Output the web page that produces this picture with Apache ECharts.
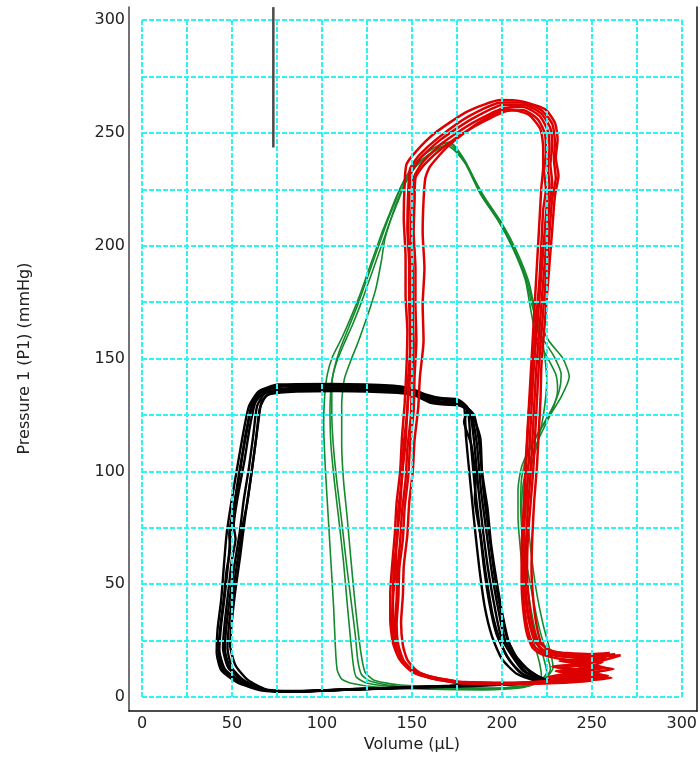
<!DOCTYPE html>
<html><head><meta charset="utf-8">
<script src="https://cdn.jsdelivr.net/npm/echarts@6/dist/echarts.min.js"></script>
<style>html,body{margin:0;padding:0;background:#fff}#c{width:700px;height:758px}</style>
</head><body><div id="c"></div>
<script>
// ---- axis ticks ----
const xTickLabels = [0, 50, 100, 150, 200, 250, 300];
const yTickLabels = [0, 50, 100, 150, 200, 250, 300];
const xGridValues = [0, 25, 50, 75, 100, 125, 150, 175, 200, 225, 250, 275, 300];
const yGridValues = [0, 25, 50, 75, 100, 125, 150, 175, 200, 225, 250, 275, 300];
const xTitle = 'Volume (µL)';
const yTitle = 'Pressure 1 (P1) (mmHg)';

// ---- vertical marker ----
const markerLine = [[73, 243.5], [73, 305.7]];

// ---- black loops ----
const bk1 = [[75,2.4],[66,3.0],[53,6.5],[44,12],[41.5,20],[42,30],[44,43],[45.5,58],[47,72],[50,88],[53,102],[56.5,118],[59.5,129],[65,135.5],[76,138.5],[105,138.8],[140,138],[150,136.5],[158,134],[166,132.5],[175,132],[179,129],[180,116],[182.5,95],[185,75],[187.5,57],[190.5,40],[194.5,27],[200,17],[208,10.5],[220,7],[226,6.5],[170,4.6],[115,3.3],[87,2.5],[75,2.4]];
const bk2 = [[76,2.6],[67,3.2],[55,6.8],[46,12.5],[43,21],[44,32],[46,45],[48,60],[49.5,74],[52,89],[55,104],[58.5,119],[61,130],[66,135.5],[78,137.6],[106,138],[142,137.2],[151,135.8],[159,133],[167,131.8],[176,131.2],[181,127.5],[182.5,115],[185,93],[187.5,76],[190,58],[193,42],[197,28],[203,18],[210,11],[221,7.2],[227,6.8],[170,4.8],[116,3.4],[88,2.6],[76,2.6]];
const bk3 = [[77,2.5],[68,3.2],[57,7],[48,13],[45,22],[46,33],[48,47],[50,61],[52,70],[51,76],[53.5,90],[57,105],[60,120],[63,130.5],[68,135],[80,136.8],[108,137.2],[143,136.4],[152,135],[160,132],[168,130.8],[177,130.5],[182,127],[184.5,114],[187,92],[189.5,74],[192.5,56],[196,40],[199.5,27],[205,19],[212,11.5],[222,7.5],[228,7],[171,4.9],[117,3.5],[89,2.6],[77,2.5]];
const bk4 = [[78,2.7],[69,3.4],[59,7.5],[52,14],[49,23],[50,34],[52,48],[54.5,62],[57,78],[59.5,92],[62,106],[64.5,121],[66.5,131],[71,134.5],[82,135.6],[110,136],[144,135.4],[153,134],[161,131],[169,130],[178,129.5],[184.5,125],[187.5,112],[190,90],[193,72],[196,54],[199.5,38],[203,26],[208,18],[215,12],[223,8],[229,7.3],[172,5],[118,3.6],[90,2.7],[78,2.7]];
const bk5 = [[76,2.5],[67,3.1],[54.5,6.6],[45,12.2],[42.5,20.5],[43.5,31],[45.5,44],[47,56],[49,66],[48.5,72],[51.5,86],[54.5,100],[57.5,116],[61,128],[66,135],[77,137.8],[104,138.3],[141,137.6],[150,136.2],[158,133.5],[166,132.2],[176,131.6],[181,128],[179,122],[183,112],[185.5,96],[185,88],[188.5,70],[191,55],[195,36],[199,25],[204,16.5],[212,10],[222,7],[227,6.6],[170,4.7],[115,3.3],[88,2.5],[76,2.5]];
const bk6 = [[77,2.6],[68,3.3],[57,7.2],[50,13],[47.5,22],[48.5,33],[50.5,46],[53,60],[56,76],[58.5,86],[61,100],[63.5,115],[65.5,128],[69.5,133.8],[81,135.2],[108,135.6],[142,134.8],[152,133.5],[160,130.5],[168,129.6],[176.5,129.2],[183,126],[188,115],[189,100],[192,84],[194,68],[197,52],[200.5,36],[204,24],[209,16],[216,11],[224,7.8],[229,7.2],[171,4.9],[117,3.5],[89,2.6],[77,2.6]];
const bk7 = [[76,2.5],[67,3.2],[56,7],[49,12.8],[46,21.5],[47,32],[49,45],[51.5,59],[54.5,74],[56.5,87],[59.5,102],[62,117],[64,129],[68.5,134.6],[79,136.2],[107,136.6],[142,136],[152,134.5],[160,131.5],[168,130.3],[177,130],[182.5,126.5],[186,113],[188.5,91],[191.5,73],[194.5,55],[198,39],[201.5,26],[206.5,18],[213,11.5],[222.5,7.6],[228.5,7],[171,4.8],[116,3.4],[88,2.6],[76,2.5]];

// ---- green loops ----
const gr1 = [[171.5,246],[165,244.5],[158,241],[151,236],[145,228],[141,221],[137,213],[133,205],[129,196],[125,187],[121,178],[116,168],[111,159],[106,151],[103,143],[101.5,133],[101,120],[102,100],[103.5,80],[105,60],[106.5,40],[107.5,22],[108.5,12],[111,8],[117,6],[130,4.5],[160,3.5],[190,3.2],[210,4],[219,6],[222,9],[221,15],[218,24],[214,40],[211,60],[209,80],[209,92],[211,102],[217,113],[226,124],[233,133],[237.5,142],[234,150],[226,158],[219,170],[215,184],[208,198],[200,210],[190,222],[181,235],[175,243],[171.5,246]];
const gr2 = [[172,245.5],[166,243.5],[159,240],[152,235],[146,227],[142,219],[138,211],[134,202],[130,193],[126,184],[122,175],[117,165],[112,156],[108,148],[105.5,140],[104.5,128],[105,112],[107,95],[109.5,78],[112,60],[114,42],[116,25],[117.5,14],[119,9],[124,6.5],[135,5],[160,4],[190,3.6],[212,4.5],[221,7],[225,11],[223,18],[219,28],[215,45],[212,65],[210.5,85],[211,97],[214,107],[221,118],[228,128],[232,136],[233,143],[229,151],[222,160],[217,173],[213,186],[206,200],[198,212],[188,224],[180,237],[175,243],[172,245.5]];
const gr3 = [[171,245],[164,243],[157,239],[150,234],[144,226],[140,218],[136,210],[132,201],[128,192],[124,183],[120,174],[115,164],[110,154],[107,146],[105.5,138],[105.5,125],[106.5,110],[108.5,94],[111,78],[113.5,60],[116,44],[118.5,28],[120,16],[122,10],[127,7],[140,5],[165,4.2],[195,3.8],[214,5],[224,8],[227,12.5],[225,19],[221,30],[217,45],[213,63],[211,82],[212,95],[216,106],[222,117],[228,127],[231,136],[230,143],[225,151],[219,160],[216,172],[213,185],[206,199],[198,211],[188,223],[180,236],[174,243],[171,245]];
const gr4 = [[170,244.5],[163,242],[156,238],[149,232],[145,226],[141,218],[138,211],[135,203],[133,193],[130,181],[127,173],[124,166],[120,157],[116,149],[112.5,141],[111,130],[111,112],[112,96],[114,80],[116,62],[118,45],[120,30],[122,18],[124,11],[129,7.5],[142,5.5],[170,4.5],[198,4],[215,5.5],[225,9],[228.5,13],[227,20],[223,32],[219,48],[216,66],[214,84],[215,98],[219,110],[222,120],[224,130],[225,140],[224,150],[222,160],[218,172],[214,185],[207,198],[199,210],[189,222],[181,235],[174,242],[170,244.5]];

// ---- red loops ----
const rd1 = [[176,6.8],[162,8.8],[150,12],[143,17],[139.5,24],[138,34],[138,46],[139,58],[140.5,72],[141.5,86],[143.5,100],[144.5,115],[146,130],[147,146],[147.5,162],[146.5,178],[146.5,195],[145.5,212],[146,228],[147,236],[152,241.5],[163,250],[181,259.5],[199.5,264.5],[210.5,264],[224,260.5],[229.5,254.5],[231,247],[230,239],[231.5,231],[229.5,222],[228,207],[226.5,192],[225,177],[223.5,162],[222,147],[221.5,132],[220.5,117],[219.5,102],[218,87],[217,72],[216.5,57],[217.5,43],[219.5,31],[222,24],[228,20],[240,18.5],[255,18],[266,18.5],[252,15.5],[238,14.5],[250,13.5],[262,12.5],[245,10.5],[236,9.5],[252,9],[261,8.5],[240,7],[215,6],[195,6.2],[176,6.8]];
const rd2 = [[178,6.6],[163,8.6],[151.5,11.5],[144.5,16.5],[141,23],[139.5,32],[139.5,44],[141,56],[141.5,70],[143.5,84],[144.5,98],[146.5,113],[147.5,128],[149,144],[149,160],[148.5,176],[148.5,192],[147.5,208],[148,224],[149,234],[154,240],[165,248],[182,257.5],[200,263.5],[211,263.5],[222,260],[228,254],[229.5,246],[229,238],[230,230],[228,221],[226.5,206],[225,191],[223.5,176],[222,161],[220.5,146],[219.5,131],[218.5,116],[217.5,101],[216,86],[214.5,71],[214,56],[215,43],[217,32],[220,25],[226,21],[238,19],[252,18.5],[263,19],[248,16.5],[236,15.5],[247,14.5],[258,13],[243,11.5],[234,10.5],[250,10],[259,9.5],[238,7.5],[212,6.2],[193,6.3],[178,6.6]];
const rd3 = [[177,6.4],[162,8.4],[151,11],[144,16],[140.5,23.5],[139,33],[139.5,45],[140,58],[142,71],[142.5,83],[144.5,97],[145.5,112],[147.5,127],[148,142],[149.5,158],[149,174],[149,190],[148,206],[148.5,221],[149.5,232],[155,239],[166,247],[183,256],[201,262.5],[212,262.5],[222,258.5],[227,252],[228,244],[227,236],[228,228],[226.5,219],[225,204],[223.5,189],[222,174],[220.5,159],[219,144],[218,129],[217,114],[216,99],[214.5,84],[213.5,69],[213,54],[214,41],[216,31],[219,24],[224,20.5],[236,19.5],[250,19],[260,19.5],[246,17],[232,16],[244,15],[255,13.5],[240,12],[232,11],[247,10.5],[256,10],[236,8],[210,6.4],[190,6.3],[177,6.4]];
const rd4 = [[176,6.2],[161,8.2],[150.5,11],[144.5,15.5],[141.5,22],[140.5,31],[141.5,43],[142,56],[143.5,69],[144.5,82],[146.5,96],[147.5,110],[149.5,125],[150,140],[151,156],[150.5,172],[150.5,188],[149.5,204],[150,219],[151,230],[156,237],[167,245.5],[184,254.5],[201,261],[212,261.5],[221,257.5],[225.5,251],[226.5,243],[225.5,235],[226.5,227],[225,218],[223.5,203],[222,188],[220.5,173],[219,158],[217.5,143],[216.5,128],[215.5,113],[214.5,98],[213,83],[212,68],[211.5,53],[212.5,40],[214.5,30],[217.5,23],[223,19.5],[234,18],[247,17.5],[258,17.5],[244,14],[231,13],[243,12],[254,11],[238,9.5],[226,8.5],[244,8.5],[254,8],[234,6.8],[208,6],[190,6],[176,6.2]];
const rd5 = [[175,6.3],[161,8.3],[151,11.5],[145.5,16],[142.5,23],[141.5,32],[142.5,44],[143,57],[145,70],[146,84],[148,98],[149,112],[151,127],[151.5,142],[152.5,158],[152,174],[152,190],[151,206],[151.5,220],[152,230],[157,236],[168,244],[185,253],[202,259.5],[212,260],[220,256],[224,249.5],[224.5,241],[223.5,233],[224.5,225],[223,216],[222,201],[221,186],[219.5,171],[218,156],[216.5,141],[215,126],[214,111],[213,96],[212,81],[211,66],[211,51],[212,38],[214,28],[217,22],[222,19],[232,17],[244,16],[256,15.5],[242,12.5],[230,11.5],[241,11],[252,10],[237,8.5],[228,7.5],[241,7.5],[250,7.2],[230,6.2],[206,5.8],[189,5.9],[175,6.3]];
const rd6 = [[174,6.5],[162,8.5],[153,11.5],[147.5,16.5],[145,23],[144,33],[145,45],[145.5,58],[147.5,72],[148.5,86],[150.5,100],[151.5,114],[153.5,128],[154.5,142],[156.5,158],[156,174],[157,190],[156,206],[156.5,220],[157.5,230],[160,235],[170,244],[187,254.5],[203.5,260.5],[215,258],[221.5,251.5],[223,243],[223,235],[222,226],[221,212],[220,198],[219,184],[218,170],[217,156],[216,142],[215,128],[214,114],[213,100],[212.5,86],[212,72],[212,58],[213,45],[215,34],[218,26],[222,21],[230,18.5],[242,17.5],[253,17],[240,14.5],[228,13.5],[238,12.5],[249,11.5],[234,10],[226,9],[238,8.8],[248,8.5],[228,7],[205,6.2],[188,6.2],[174,6.5]];

const greenLoops = [gr1, gr2, gr3, gr4];
const blackLoops = [bk1, bk2, bk3, bk4, bk5, bk6, bk7];
const redLoops = [rd1, rd2, rd3, rd4, rd5, rd6];

const FONT = 'DejaVu Sans';
const CYAN = '#30f2f2';

function loopSeries(loops, color, width, z) {
  return loops.map(d => ({
    type: 'line', xAxisIndex: 0, yAxisIndex: 0, data: d,
    showSymbol: false, symbol: 'none', smooth: 0.2, z: z,
    lineStyle: { color: color, width: width }, silent: true, animation: false
  }));
}

const gridMarks = [
  ...xGridValues.map(v => ({ xAxis: v })),
  ...yGridValues.map(v => ({ yAxis: v }))
];

const chart = echarts.init(document.getElementById('c'), null, { renderer: 'canvas' });
chart.setOption({
  animation: false,
  backgroundColor: '#ffffff',
  grid: [
    { left: 142, top: 20, width: 542, height: 679 },
    { left: 129, top: 7, width: 568, height: 704 }
  ],
  xAxis: [
    {
      gridIndex: 0, type: 'value', min: 0, max: 300, interval: 50,
      axisLine: { show: false }, axisTick: { show: false },
      axisLabel: { margin: 19, fontFamily: FONT, fontSize: 16, color: '#222',
        formatter: v => (xTickLabels.includes(v) ? String(v) : '') },
      splitLine: { show: false },
      name: xTitle, nameLocation: 'middle', nameGap: 36,
      nameTextStyle: { fontFamily: FONT, fontSize: 16, color: '#222' }
    },
    {
      gridIndex: 1, type: 'value', min: 0, max: 1,
      axisLine: { show: true, lineStyle: { color: '#111', width: 1.5 } },
      axisTick: { show: false }, axisLabel: { show: false }, splitLine: { show: false }
    }
  ],
  yAxis: [
    {
      gridIndex: 0, type: 'value', min: 0, max: 300, interval: 50,
      axisLine: { show: false }, axisTick: { show: false },
      axisLabel: { margin: 17, fontFamily: FONT, fontSize: 16, color: '#222',
        formatter: v => (yTickLabels.includes(v) ? String(v) : '') },
      splitLine: { show: false },
      name: yTitle, nameLocation: 'middle', nameGap: 109,
      nameTextStyle: { fontFamily: FONT, fontSize: 16, color: '#222' }
    },
    {
      gridIndex: 1, type: 'value', min: 0, max: 1, position: 'left',
      axisLine: { show: true, lineStyle: { color: '#444', width: 1.5 } },
      axisTick: { show: false }, axisLabel: { show: false }, splitLine: { show: false }
    },
    {
      gridIndex: 1, type: 'value', min: 0, max: 1, position: 'right',
      axisLine: { show: true, lineStyle: { color: '#111', width: 1.5 } },
      axisTick: { show: false }, axisLabel: { show: false }, splitLine: { show: false }
    }
  ],
  series: [
    {
      type: 'line', xAxisIndex: 0, yAxisIndex: 0, data: [], z: 1, silent: true,
      markLine: {
        silent: true, symbol: ['none', 'none'], animation: false,
        label: { show: false },
        lineStyle: { color: CYAN, width: 2, type: [5, 2], opacity: 1 },
        emphasis: { disabled: true },
        data: gridMarks
      }
    },
    ...loopSeries(greenLoops, '#148a2c', 1.6, 2),
    ...loopSeries(blackLoops, '#000000', 2.4, 3),
    ...loopSeries(redLoops, '#dd0000', 2.5, 4),
    {
      type: 'line', xAxisIndex: 0, yAxisIndex: 0, data: markerLine, clip: false,
      showSymbol: false, symbol: 'none', z: 5,
      lineStyle: { color: '#4a4a4a', width: 2.5 }, silent: true
    }
  ]
});
</script>
</body></html>
